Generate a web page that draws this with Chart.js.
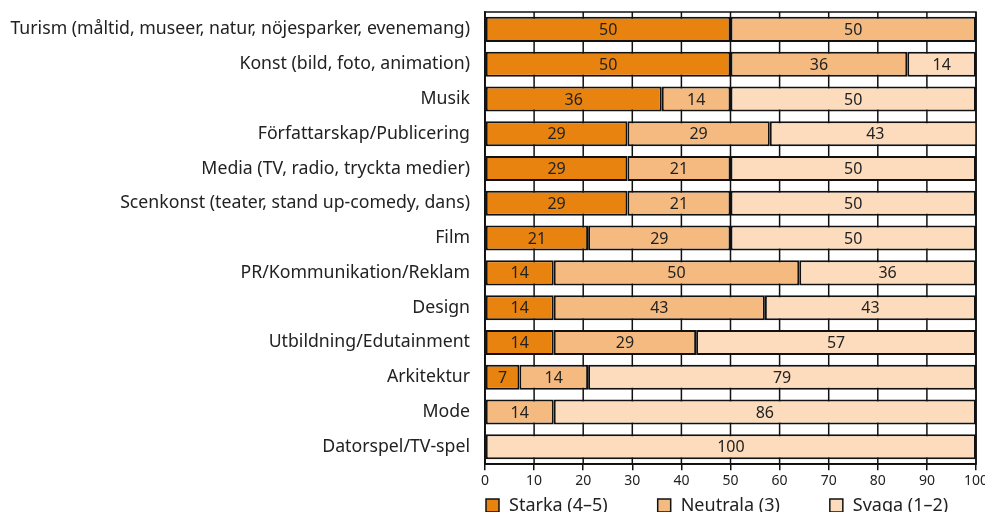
<!DOCTYPE html>
<html lang="sv">
<head>
    <meta charset="UTF-8">
    <title>Branscher</title>
    <script src="https://cdnjs.cloudflare.com/ajax/libs/Chart.js/4.4.1/chart.umd.min.js"></script>
    <style>
        * { margin: 0; padding: 0; box-sizing: border-box; }
        body { background: #fff; }
        .chart-container { width: 985px; height: 512px; position: relative; }
    </style>
</head>
<body>
    <div class="chart-container">
        <canvas id="barChart"></canvas>
    </div>

    <script>
        const categories = [
            'Turism (måltid, museer, natur, nöjesparker, evenemang)',
            'Konst (bild, foto, animation)',
            'Musik',
            'Författarskap/Publicering',
            'Media (TV, radio, tryckta medier)',
            'Scenkonst (teater, stand up-comedy, dans)',
            'Film',
            'PR/Kommunikation/Reklam',
            'Design',
            'Utbildning/Edutainment',
            'Arkitektur',
            'Mode',
            'Datorspel/TV-spel'
        ];

        const starka   = [50, 50, 36, 29, 29, 29, 21, 14, 14, 14, 7, 0, 0];
        const neutrala = [50, 36, 14, 29, 21, 21, 29, 50, 43, 29, 14, 14, 0];
        const svaga    = [0, 14, 50, 43, 50, 50, 50, 36, 43, 57, 79, 86, 100];

        const seriesNames = ['Starka (4–5)', 'Neutrala (3)', 'Svaga (1–2)'];
        const seriesColors = ['#E8830F', '#F5BA80', '#FCDCBC'];
        const xTicks = [0, 10, 20, 30, 40, 50, 60, 70, 80, 90, 100];

        const fontFamily = '"Noto Sans", "Open Sans", sans-serif';
        const textColor = '#222';
        const lineColor = '#111';

        // vertical grid lines behind the bars (show in the gaps)
        const gridBehind = {
            id: 'gridBehind',
            beforeDatasetsDraw(chart) {
                const a = chart.chartArea;
                const sx = chart.scales.x;
                const ctx = chart.ctx;
                ctx.save();
                ctx.strokeStyle = lineColor;
                ctx.lineWidth = 1.5;
                xTicks.forEach(v => {
                    const px = sx.getPixelForValue(v);
                    ctx.beginPath();
                    ctx.moveTo(px, a.top);
                    ctx.lineTo(px, a.bottom);
                    ctx.stroke();
                });
                ctx.restore();
            }
        };

        // value labels centred in each segment
        const valueLabels = {
            id: 'valueLabels',
            afterDatasetsDraw(chart) {
                const ctx = chart.ctx;
                ctx.save();
                ctx.font = '16px ' + fontFamily;
                ctx.fillStyle = textColor;
                ctx.textAlign = 'center';
                ctx.textBaseline = 'middle';
                chart.data.datasets.forEach((ds, i) => {
                    chart.getDatasetMeta(i).data.forEach((bar, j) => {
                        const v = ds.data[j];
                        if (!v) return;
                        ctx.fillText(String(v), (bar.x + bar.base) / 2, bar.y + 1);
                    });
                });
                ctx.restore();
            }
        };

        // box round the plot area + legend row under it
        const frameAndLegend = {
            id: 'frameAndLegend',
            afterDraw(chart) {
                const a = chart.chartArea;
                const ctx = chart.ctx;
                ctx.save();
                ctx.strokeStyle = lineColor;
                ctx.lineWidth = 1.5;
                ctx.strokeRect(a.left, a.top, a.right - a.left, a.bottom - a.top);

                ctx.font = '18px ' + fontFamily;
                ctx.textBaseline = 'middle';
                ctx.textAlign = 'left';
                let x = a.left + 1;
                const y = 506;
                chart.data.datasets.forEach(ds => {
                    ctx.fillStyle = ds.backgroundColor;
                    ctx.fillRect(x, y - 7, 13, 13);
                    ctx.strokeRect(x, y - 7, 13, 13);
                    ctx.fillStyle = textColor;
                    ctx.fillText(ds.label, x + 23, y);
                    x += 23 + ctx.measureText(ds.label).width + 50;
                });
                ctx.restore();
            }
        };

        new Chart(document.getElementById('barChart'), {
            type: 'bar',
            data: {
                labels: categories,
                datasets: [starka, neutrala, svaga].map((d, i) => ({
                    label: seriesNames[i],
                    data: d,
                    backgroundColor: seriesColors[i],
                    borderColor: lineColor,
                    borderWidth: 2,
                    borderSkipped: false,
                    barPercentage: 0.72,
                    categoryPercentage: 1
                }))
            },
            options: {
                indexAxis: 'y',
                responsive: true,
                maintainAspectRatio: false,
                animation: false,
                layout: { padding: { top: 12, right: 9, left: 0, bottom: 21 } },
                scales: {
                    x: {
                        stacked: true,
                        min: 0,
                        max: 100,
                        afterBuildTicks: s => { s.ticks = xTicks.map(v => ({ value: v })); },
                        afterFit: s => { s.paddingLeft = 0; s.paddingRight = 0; },
                        grid: { color: lineColor, lineWidth: 1.5, tickLength: 6, drawOnChartArea: false },
                        border: { color: lineColor, width: 1.5 },
                        ticks: { color: textColor, font: { family: fontFamily, size: 14 }, padding: 2 }
                    },
                    y: {
                        stacked: true,
                        afterFit: s => { s.width = 485; s.paddingTop = 0; s.paddingBottom = 0; },
                        grid: { display: false },
                        border: { color: lineColor, width: 1.5 },
                        ticks: { color: textColor, font: { family: fontFamily, size: 17.7 }, padding: 7 }
                    }
                },
                plugins: {
                    legend: { display: false },
                    tooltip: { enabled: false }
                }
            },
            plugins: [gridBehind, valueLabels, frameAndLegend]
        });
    </script>
</body>
</html>
